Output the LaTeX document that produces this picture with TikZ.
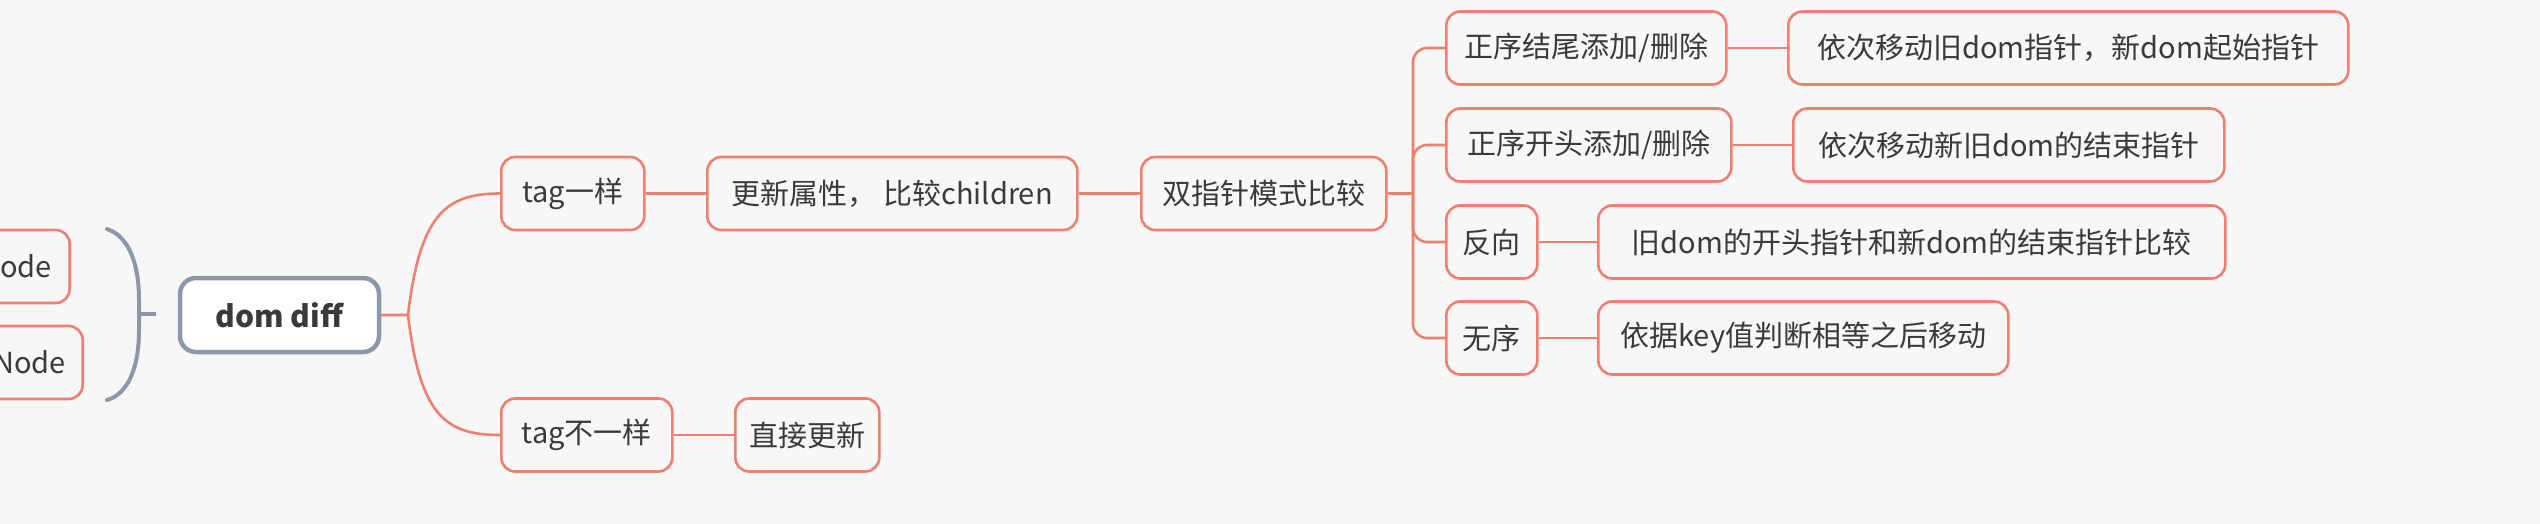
\documentclass[tikz,border=0pt]{standalone}
\usepackage{fontspec}
\setmainfont{Noto Sans CJK SC}
\usetikzlibrary{positioning}
\definecolor{bgcol}{HTML}{F7F7F7}
\definecolor{coral}{HTML}{EF7F6E}
\definecolor{slate}{HTML}{8C97AA}
\definecolor{ink}{HTML}{3A3A3A}
\tikzset{
  topic/.style={draw=coral, line width=2.6pt, rounded corners=14pt, fill=bgcol, text=ink,
    inner xsep=13pt, minimum height=73pt, anchor=west, font=\fontsize{29}{34}\selectfont},
  rootbox/.style={draw=slate, line width=4.5pt, rounded corners=16pt, fill=white, text=ink,
    minimum height=74pt, font=\fontsize{30}{34}\selectfont\bfseries},
  branch/.style={draw=coral, line width=2.6pt},
}
\begin{document}
\begin{tikzpicture}[x=1pt,y=-1pt]
  \useasboundingbox (0,0) rectangle (2540,524);
  \clip (0,0) rectangle (2540,524);
  \fill[bgcol] (0,0) rectangle (2540,524);
  % left part, cut off by the page edge
  \node[topic, inner xsep=18pt, anchor=east] (oldv) at (71,266.5){ode};
  \node[topic, inner xsep=17pt, anchor=east] (newv) at (84,362.5){Node};
  \draw[slate, line width=4pt, line cap=round] (107,229) .. controls (128,236) and (139,262) .. (139,300)
    -- (139,330) .. controls (139,368) and (128,394) .. (107,400);
  \draw[slate, line width=4pt] (139,314) -- (156,314);
  % root
  \node[rootbox, minimum width=199pt] (root) at (279.5,315){dom diff};
  \node[topic, minimum width=143pt] (same) at (500,193.5){tag一样};
  \node[topic, minimum width=370pt] (update) at (706,193.5){更新属性， 比较children};
  \node[topic, minimum width=245pt] (twoptr) at (1140,193.5){双指针模式比较};
  \node[topic, minimum width=171pt] (diff) at (500,435){tag不一样};
  \node[topic, minimum width=144pt] (direct) at (734,435){直接更新};
  % double pointer cases
  \node[topic, minimum width=280pt] (tailop) at (1445,48){正序结尾添加/删除};
  \node[topic, minimum width=560pt] (tailmv) at (1787,48){依次移动旧dom指针，新dom起始指针};
  \node[topic, minimum width=285pt] (headop) at (1445,145){正序开头添加/删除};
  \node[topic, minimum width=431pt] (headmv) at (1792,145){依次移动新旧dom的结束指针};
  \node[topic, minimum width=91pt] (rev) at (1445,242){反向};
  \node[topic, minimum width=627pt] (revcmp) at (1597,242){旧dom的开头指针和新dom的结束指针比较};
  \node[topic, minimum width=91pt] (noorder) at (1445,338){无序};
  \node[topic, minimum width=410pt] (keymove) at (1597,338){依据key值判断相等之后移动};
  % connectors
  \coordinate (fork) at (408,315);
  \draw[branch] (root.east) -- (fork) .. controls (420,215) and (445,193.5) .. (same.west);
  \draw[branch] (fork) .. controls (420,415) and (445,435) .. (diff.west);
  \draw[branch] (same) -- (update);
  \draw[branch] (update) -- (twoptr);
  \draw[branch] (diff) -- (direct);
  \coordinate (split) at (1413,193.5);
  \draw[branch] (twoptr) -- (split);
  \foreach \n in {tailop,headop,rev,noorder}
    \draw[branch, rounded corners=14pt] (split) |- (\n.west);
  \draw[branch] (tailop) -- (tailmv);
  \draw[branch] (headop) -- (headmv);
  \draw[branch] (rev) -- (revcmp);
  \draw[branch] (noorder) -- (keymove);
\end{tikzpicture}
\end{document}
